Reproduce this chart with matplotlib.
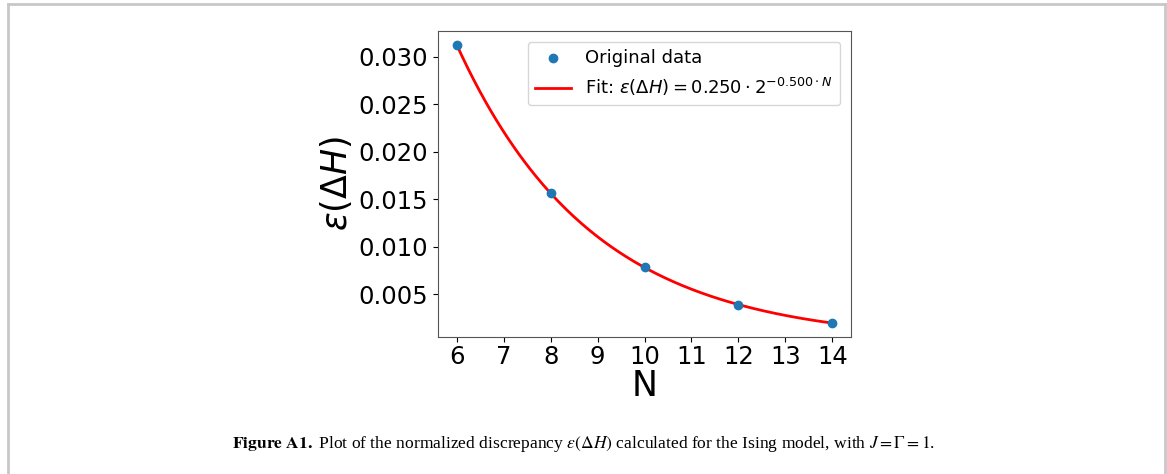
import numpy as np
import matplotlib
matplotlib.use("Agg")
import matplotlib.pyplot as plt

# system sizes and measured discrepancy
N_values = [6, 8, 10, 12, 14]
eps_values = [0.03125, 0.015625, 0.0078125, 0.00390625, 0.001953]

x_ticks = [6, 7, 8, 9, 10, 11, 12, 13, 14]
y_ticks = [0.005, 0.010, 0.015, 0.020, 0.025, 0.030]

caption = (r"$\mathbf{Figure\ A1.}$ Plot of the normalized discrepancy "
           r"$\varepsilon(\Delta H)$ calculated for the Ising model, with $J = \Gamma = 1$.")


def fit_exp2(n, y):
    # fit y = a * 2^(-b*N) via log2
    slope, inter = np.polyfit(n, np.log2(y), 1)
    return 2 ** inter, -slope


def main():
    fig = plt.figure(figsize=(11.67, 4.74), dpi=100)

    # light grey page frame (left, top, right)
    fx0, fx1, fy = 7.5 / 1167, 1164.5 / 1167, 1 - 3.5 / 474
    for xs, ys in [([fx0, fx0], [0, fy]), ([fx0, fx1], [fy, fy]), ([fx1, fx1], [0, fy])]:
        fig.add_artist(plt.Line2D(xs, ys, transform=fig.transFigure, color="#c8c8c8", lw=2))

    ax = fig.add_axes([438 / 1167, 1 - 337 / 474, 413 / 1167, 306 / 474])

    a, b = fit_exp2(np.array(N_values), np.array(eps_values))
    n_fine = np.linspace(min(N_values), max(N_values), 200)

    ax.scatter(N_values, eps_values, s=36, color="#1f77b4", label="Original data", zorder=3)
    ax.plot(n_fine, a * 2 ** (-b * n_fine), color="red", lw=2,
            label=r"Fit: $\varepsilon(\Delta H) = %.3f \cdot 2^{-%.3f \cdot N}$" % (a, b))

    ax.set_xticks(x_ticks)
    ax.set_yticks(y_ticks)
    ax.tick_params(labelsize=17.5)
    ax.tick_params(axis="x", pad=2.5)
    for s in ax.spines.values():
        s.set_color("#555555")
    ax.set_xlabel("N", fontsize=25, labelpad=0)
    ax.set_ylabel(r"$\varepsilon(\Delta H)$", fontsize=25, labelpad=3)
    ax.legend(fontsize=13, loc="upper right", borderaxespad=0.6)

    fig.text(0.5, 1 - 444 / 474, caption, ha="center", va="center",
             fontsize=12.6, family="Liberation Serif", math_fontfamily="stix")

    fig.savefig("out.png", dpi=100)


if __name__ == "__main__":
    main()
